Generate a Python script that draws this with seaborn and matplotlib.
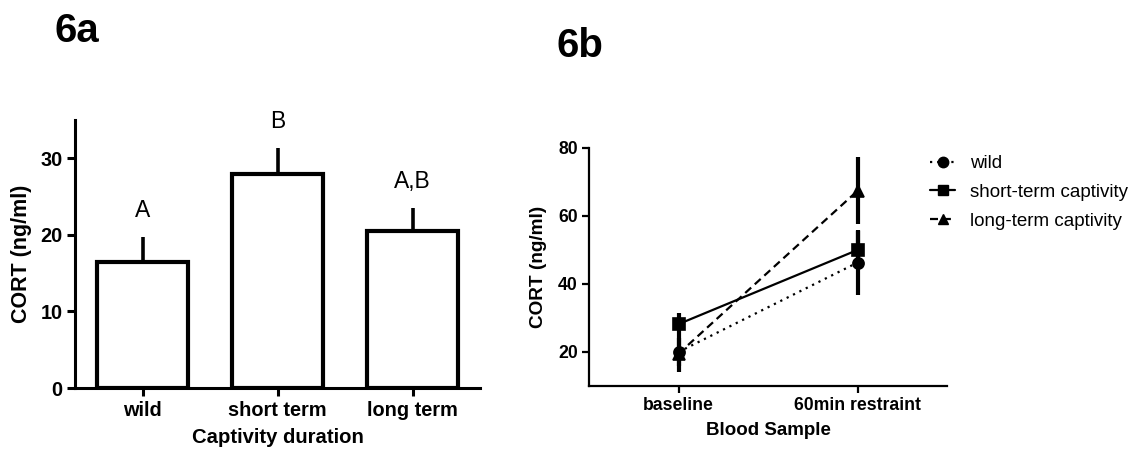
import numpy as np
import pandas as pd
import matplotlib
matplotlib.use("Agg")
import matplotlib.pyplot as plt
from matplotlib.lines import Line2D
import seaborn as sns

# ---- Panel a: CORT by captivity duration (mean + SEM) ----
durations = ["wild", "short term", "long term"]
cort_mean = [16.4, 27.9, 20.5]
cort_sem = [3.3, 3.4, 3.0]
sig_letters = ["A", "B", "A,B"]

# ---- Panel b: CORT at baseline and after 60 min restraint ----
samples = ["baseline", "60min restraint"]
groups = ["wild", "short-term captivity", "long-term captivity"]
wild_mean = [20.0, 46.3]
wild_sem = [4.0, 9.5]
short_mean = [28.2, 50.0]
short_sem = [3.3, 5.5]
long_mean = [19.5, 67.4]
long_sem = [5.5, 9.9]

sns.set_theme(style="ticks")
plt.rcParams["font.family"] = ["Liberation Sans", "DejaVu Sans"]
plt.rcParams["text.color"] = "black"
plt.rcParams["axes.labelcolor"] = "black"
plt.rcParams["axes.edgecolor"] = "black"
plt.rcParams["xtick.color"] = "black"
plt.rcParams["ytick.color"] = "black"
plt.rcParams["xtick.labelcolor"] = "black"
plt.rcParams["ytick.labelcolor"] = "black"

fig = plt.figure(figsize=(11.42, 4.54), dpi=100)
W, H = 1142, 454

def box(x0, x1, ytop, ybot):
    return [x0 / W, 1 - ybot / H, (x1 - x0) / W, (ybot - ytop) / H]

# ---------------- Panel a ----------------
ax1 = fig.add_axes(box(75, 480, 120, 388))
bar_df = pd.DataFrame({"duration": durations, "cort": cort_mean})
sns.barplot(data=bar_df, x="duration", y="cort", color="white", saturation=1,
            edgecolor="black", linewidth=3, width=0.67, ax=ax1, errorbar=None)
xs = np.arange(len(durations))
ax1.errorbar(xs, cort_mean, yerr=[np.zeros(len(xs)), cort_sem], fmt="none",
             ecolor="black", elinewidth=2.6, capsize=0, zorder=1)
for x, m, s, lab in zip(xs, cort_mean, cort_sem, sig_letters):
    ax1.text(x, m + s + 3.5, lab, ha="center", va="center", fontsize=16.5,
             color="black")
ax1.set_xlim(-0.5, 2.5)
ax1.set_ylim(0, 35)
ax1.set_yticks([0, 10, 20, 30])
ax1.set_xlabel("Captivity duration", fontsize=14.6, fontweight="bold", labelpad=6)
ax1.set_ylabel("CORT (ng/ml)", fontsize=15.5, fontweight="bold", labelpad=6)
for sp in ["top", "right"]:
    ax1.spines[sp].set_visible(False)
for sp in ["left", "bottom"]:
    ax1.spines[sp].set_linewidth(2.2)
ax1.tick_params(axis="both", direction="out", length=6, width=2.2,
                labelsize=14.4, pad=3)
for t in ax1.get_xticklabels() + ax1.get_yticklabels():
    t.set_fontweight("bold")

# ---------------- Panel b ----------------
ax2 = fig.add_axes(box(589, 947, 148, 386))
line_df = pd.DataFrame({
    "sample": samples * 3,
    "cort": wild_mean + short_mean + long_mean,
    "group": [groups[0]] * 2 + [groups[1]] * 2 + [groups[2]] * 2,
})
styles = [(0, (1, 2.2)), "-", (0, (3.6, 2.2))]
markers = ["o", "s", "^"]
sns.pointplot(data=line_df, x="sample", y="cort", hue="group", hue_order=groups,
              palette=["black"] * 3, markers=markers, linestyles=["-"] * 3,
              errorbar=None, dodge=False, legend=False, ax=ax2,
              markersize=8, linewidth=1.6)
for ln, ls in zip(ax2.lines[:3], styles):
    ln.set_linestyle(ls)

for m, s in [(wild_mean, wild_sem), (short_mean, short_sem), (long_mean, long_sem)]:
    ax2.errorbar([0, 1], m, yerr=s, fmt="none", ecolor="black",
                 elinewidth=3, capsize=0, zorder=1)

ax2.set_xlim(-0.5, 1.5)
ax2.set_ylim(10, 80)
ax2.set_yticks([20, 40, 60, 80])
ax2.set_xlabel("Blood Sample", fontsize=13.5, fontweight="bold", labelpad=6)
ax2.set_ylabel("CORT (ng/ml)", fontsize=13.7, fontweight="bold", labelpad=8)
for sp in ["top", "right"]:
    ax2.spines[sp].set_visible(False)
for sp in ["left", "bottom"]:
    ax2.spines[sp].set_linewidth(1.6)
ax2.tick_params(axis="both", direction="out", length=5, width=1.6,
                labelsize=12.7, pad=3)
for t in ax2.get_xticklabels() + ax2.get_yticklabels():
    t.set_fontweight("bold")

handles = [Line2D([], [], color="black", linestyle=ls, marker=mk, markersize=7.5,
                  linewidth=1.6)
           for ls, mk in zip(styles, markers)]
fig.legend(handles, groups, loc="upper left",
           bbox_to_anchor=(930 / W, 1 - 155 / H), frameon=False,
           fontsize=13.5, handlelength=1.35, handletextpad=0.8,
           labelspacing=0.62, borderpad=0, borderaxespad=0)

# Panel labels
fig.text(55 / W, 1 - 42 / H, "6a", fontsize=29, fontweight="bold",
         ha="left", va="baseline")
fig.text(557 / W, 1 - 57 / H, "6b", fontsize=29, fontweight="bold",
         ha="left", va="baseline")

fig.savefig("out.png", dpi=100, facecolor="white")
